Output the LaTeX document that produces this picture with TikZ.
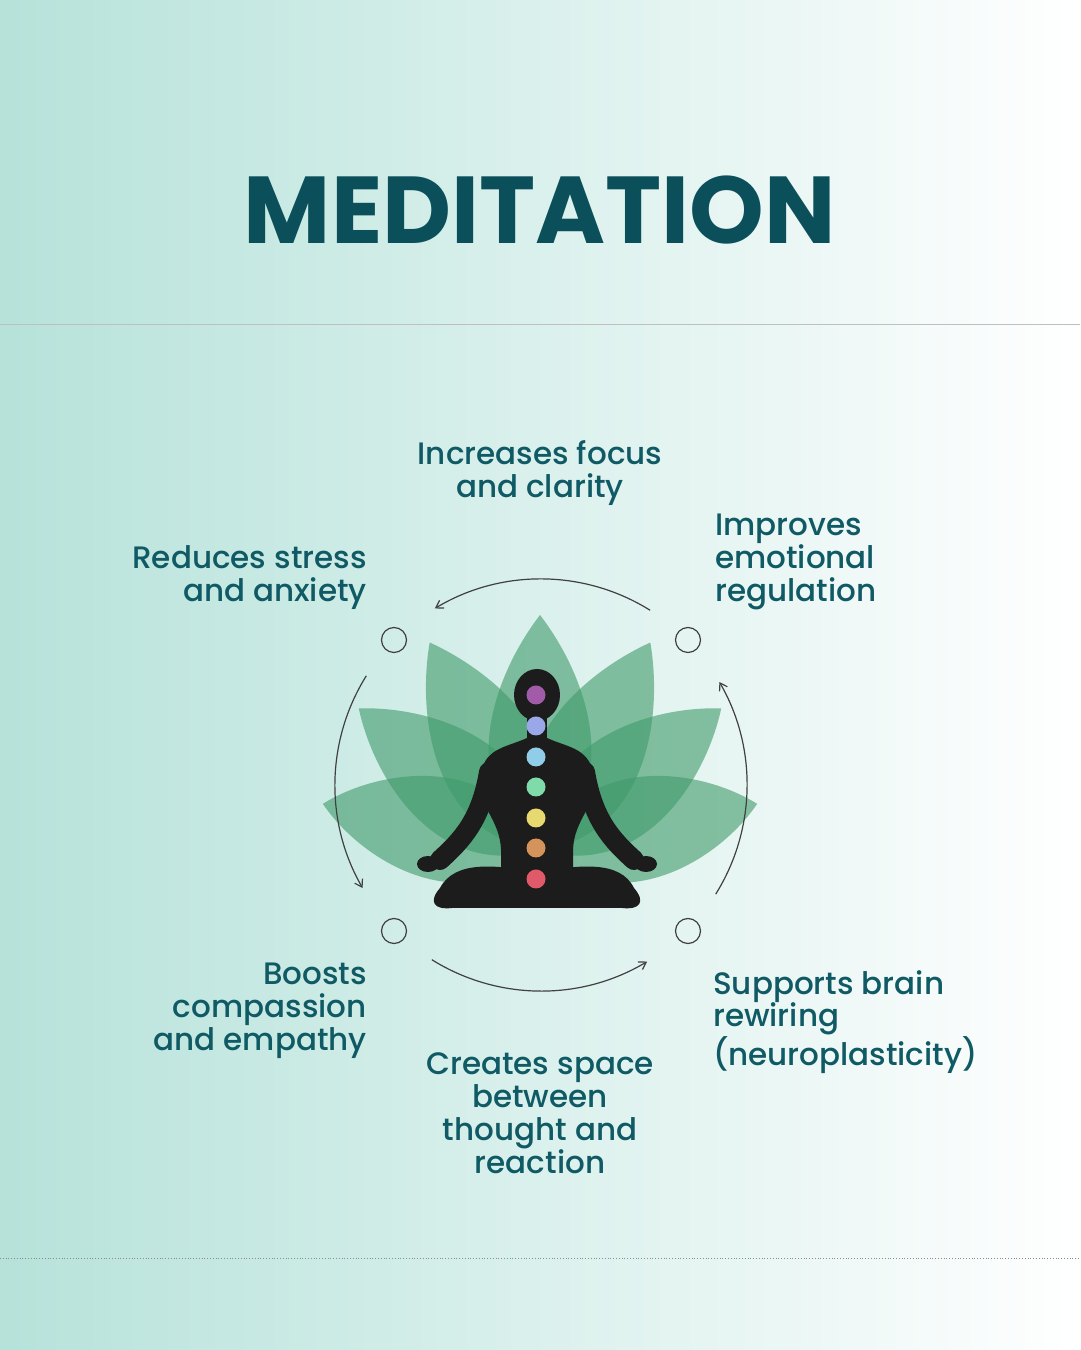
\documentclass[tikz,border=0pt]{standalone}
\usepackage{fontspec}
\setmainfont{Poppins}
\newfontfamily\popmed{Poppins Medium}
\usetikzlibrary{arrows.meta}
\definecolor{teal1}{HTML}{0B4F5A}
\definecolor{txt}{HTML}{0F5A64}
\definecolor{leaf}{HTML}{3F9A6A}
\definecolor{bgl}{HTML}{B6E2DA}
\definecolor{fig}{HTML}{1C1C1C}
\begin{document}
\begin{tikzpicture}[x=1pt,y=1pt,
  lab/.style={text=txt,font=\popmed\fontsize{31}{33}\selectfont,inner sep=0pt},
  ring/.style={draw=black!75,line width=1.2pt},
  arc/.style={draw=black!75,line width=1.2pt,-{Straight Barb[length=7pt,width=9pt]}},
  petal/.style={fill=leaf,fill opacity=0.6}]
\useasboundingbox (0,0) rectangle (1080,1350);
\shade[left color=bgl,right color=white] (0,0) rectangle (1080,1350);
\draw[black!25,line width=1pt] (0,1025) -- (1080,1025);
\draw[black!45,dotted,line width=0.8pt] (0,92) -- (1080,92);
\node[text=teal1,font=\fontsize{95}{95}\selectfont\bfseries,inner sep=0pt] (title) at (540,1140) {MEDITATION};
% petals
\foreach \a/\l in {78/222,52/230,28/235,0/235,-28/235,-52/230,-78/222}{
  \fill[petal,shift={(540,500)},rotate=\a] (0,0) .. controls (-85,60) and (-50,170) .. (0,\l) .. controls (50,170) and (85,60) .. (0,0);
}
% figure silhouette
\fill[fig] (537,655) ellipse (23 and 26);
\fill[fig] (527,635) rectangle (547,600);
\fill[fig] (527,612) .. controls (505,602) and (482,602) .. (480,570) .. controls (480,540) and (500,530) .. (501,500) -- (501,470) -- (573,470) -- (573,500) .. controls (574,530) and (594,540) .. (594,570) .. controls (592,602) and (569,602) .. (547,612) -- cycle;
\draw[fig,line width=20pt,line cap=round] (489,578) .. controls (481,530) and (462,510) .. (440,490);
\draw[fig,line width=20pt,line cap=round] (585,578) .. controls (593,530) and (612,510) .. (634,490);
\fill[fig] (428,486) ellipse (11 and 8);
\fill[fig] (646,486) ellipse (11 and 8);
\fill[fig] (440,462) .. controls (428,448) and (434,440) .. (452,442) -- (622,442) .. controls (640,440) and (646,448) .. (634,462) .. controls (620,490) and (580,485) .. (537,478) .. controls (495,485) and (455,490) .. (440,462) -- cycle;
% chakras
\foreach \y/\c in {655/A25BA8,624/9AA7E8,593/8FCDE8,563/7FDCAA,532/E8D870,502/D4935A,471/E05A6A}{
  \definecolor{cc}{HTML}{\c}\fill[cc] (536,\y) circle (9.5);
}
% rings
\node[ring,circle,minimum size=25pt,inner sep=0pt] (c1) at (394,710) {};
\node[ring,circle,minimum size=25pt,inner sep=0pt] (c2) at (688,710) {};
\node[ring,circle,minimum size=25pt,inner sep=0pt] (c3) at (394,419) {};
\node[ring,circle,minimum size=25pt,inner sep=0pt] (c4) at (688,419) {};
\coordinate (ctr) at (541,565);
\draw[arc] ([shift={(58:206)}]ctr) arc (58:121:206);
\draw[arc] ([shift={(148:206)}]ctr) arc (148:210:206);
\draw[arc] ([shift={(238:206)}]ctr) arc (238:301:206);
\draw[arc] ([shift={(-32:206)}]ctr) arc (-32:30:206);
% labels
\node[lab,align=center] (t1) at (540,877) {Increases focus\\and clarity};
\node[lab,align=right,anchor=east] (t2) at (367,772) {Reduces stress\\and anxiety};
\node[lab,align=left,anchor=west] (t3) at (715,788) {Improves\\emotional\\regulation};
\node[lab,align=right,anchor=east] (t4) at (367,339) {Boosts\\compassion\\and empathy};
\node[lab,align=left,anchor=west,font=\popmed\fontsize{31}{32}\selectfont] (t5) at (713,328) {Supports brain\\rewiring\\(neuroplasticity)};
\node[lab,align=center] (t6) at (540,237) {Creates space\\between\\thought and\\reaction};
\end{tikzpicture}
\end{document}
